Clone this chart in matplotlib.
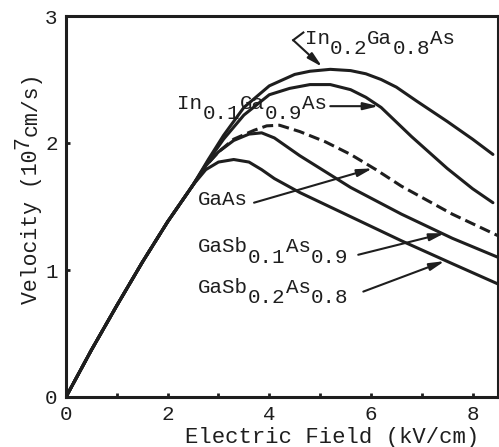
import matplotlib
matplotlib.use("Agg")
import matplotlib.pyplot as plt

plt.rcParams['font.family'] = ['Liberation Mono', 'DejaVu Sans Mono']
INK = "#1e1e1e"

# velocity-field curves (kV/cm, 1e7 cm/s)
x_in02 = [0, 0.5, 1.0, 1.5, 2.0, 2.5, 2.8, 3.1, 3.5, 4.0, 4.5, 4.8, 5.2, 5.6, 5.9, 6.2, 6.5, 6.9, 7.5, 8.0, 8.4]
v_in02 = [0, 0.37, 0.72, 1.06, 1.38, 1.67, 1.87, 2.06, 2.28, 2.45, 2.54, 2.565, 2.58, 2.57, 2.545, 2.50, 2.44, 2.33, 2.17, 2.03, 1.91]
x_in01 = [0, 0.5, 1.0, 1.5, 2.0, 2.5, 2.8, 3.1, 3.5, 4.0, 4.4, 4.8, 5.2, 5.6, 5.9, 6.2, 6.8, 7.5, 8.0, 8.4]
v_in01 = [0, 0.37, 0.72, 1.06, 1.38, 1.67, 1.86, 2.03, 2.22, 2.38, 2.43, 2.46, 2.46, 2.42, 2.36, 2.28, 2.05, 1.80, 1.64, 1.53]
x_gaas = [0, 0.5, 1.0, 1.5, 2.0, 2.5, 2.75, 3.0, 3.3, 3.7, 3.95, 4.2, 4.6, 5.1, 5.6, 6.1, 6.6, 7.6, 8.5]
v_gaas = [0, 0.37, 0.72, 1.06, 1.38, 1.67, 1.82, 1.93, 2.03, 2.10, 2.135, 2.14, 2.09, 2.01, 1.91, 1.79, 1.66, 1.44, 1.27]
x_sb01 = [0, 0.5, 1.0, 1.5, 2.0, 2.5, 2.75, 3.0, 3.3, 3.6, 3.85, 4.1, 4.6, 5.6, 6.6, 7.6, 8.5]
v_sb01 = [0, 0.37, 0.72, 1.06, 1.38, 1.67, 1.82, 1.93, 2.02, 2.07, 2.08, 2.04, 1.90, 1.65, 1.44, 1.25, 1.10]
x_sb02 = [0, 0.5, 1.0, 1.5, 2.0, 2.5, 2.75, 3.0, 3.3, 3.6, 3.85, 4.1, 4.6, 5.6, 6.6, 7.6, 8.5]
v_sb02 = [0, 0.37, 0.72, 1.06, 1.38, 1.67, 1.79, 1.85, 1.87, 1.85, 1.79, 1.72, 1.61, 1.42, 1.23, 1.05, 0.89]

xticks = [0, 1, 2, 3, 4, 5, 6, 7, 8]
xticklabels = ["0", "", "2", "", "4", "", "6", "", "8"]
yticks = [0, 1, 2, 3]

fig = plt.figure(figsize=(4.99, 4.47), dpi=100)
ax = fig.add_axes([66/499, 1-397/447, 432/499, 381/447])

for xs, vs in [(x_in02, v_in02), (x_in01, v_in01), (x_sb01, v_sb01), (x_sb02, v_sb02)]:
    ax.plot(xs, vs, color=INK, lw=2.2, solid_capstyle='round', solid_joinstyle='round')
ax.plot(x_gaas, v_gaas, color=INK, lw=2.2, ls=(0, (3.6, 1.7)))

ax.set_xlim(0, 8.5); ax.set_ylim(0, 3)
ax.set_xticks(xticks); ax.set_xticklabels(xticklabels)
ax.set_yticks(yticks)
ax.tick_params(direction='in', length=3, width=2, labelsize=15, pad=6, colors=INK)
for s in ax.spines.values():
    s.set_linewidth(2.2); s.set_color(INK)


def chem_label(x, y, parts, fs=15):
    # monospace: every char is 0.6 em wide; odd parts are dropped subscripts
    off = 0.0
    for i, s in enumerate(parts):
        dy = -0.5*fs if i % 2 else 0
        ax.annotate(s, (x, y), xytext=(off, dy), textcoords='offset points',
                    fontsize=fs, ha='left', va='baseline', color=INK)
        off += 0.6*fs*len(s)


def arrow(tail, head):
    ax.annotate('', xy=head, xytext=tail,
                arrowprops=dict(arrowstyle='-|>,head_length=0.9,head_width=0.22',
                                mutation_scale=10, lw=1.5, color=INK, shrinkA=0, shrinkB=0))


chem_label(4.70, 2.78, ["In", "0.2", "Ga", "0.8", "As"])
ax.plot([4.47, 4.67], [2.81, 2.87], color=INK, lw=1.5)
arrow((4.47, 2.81), (5.04, 2.60))

chem_label(2.19, 2.27, ["In", "0.1", "Ga", "0.9", "As"])
arrow((5.2, 2.29), (6.15, 2.29))

chem_label(2.60, 1.51, ["GaAs"])
arrow((3.7, 1.53), (6.03, 1.80))

chem_label(2.60, 1.14, ["GaSb", "0.1", "As", "0.9"])
arrow((5.75, 1.12), (7.45, 1.29))

chem_label(2.60, 0.82, ["GaSb", "0.2", "As", "0.8"])
arrow((5.85, 0.83), (7.45, 1.07))

# axis titles, typed piecewise so the exponent stays full size
fs = 15.5
off = 0.0
for i, s in enumerate(["Velocity (10", "7", "cm/s)"]):
    ax.annotate(s, (-0.067, 0.245), xycoords='axes fraction', xytext=(-0.4*fs if i == 1 else 0, off),
                textcoords='offset points', fontsize=fs, rotation=90, rotation_mode='anchor',
                ha='left', va='baseline', color=INK)
    off += 0.6*fs*len(s)
ax.text(0.275, -0.121, "Electric Field (kV/cm)", transform=ax.transAxes, fontsize=16,
        ha='left', va='baseline', color=INK)

fig.savefig("out.png", dpi=100)
